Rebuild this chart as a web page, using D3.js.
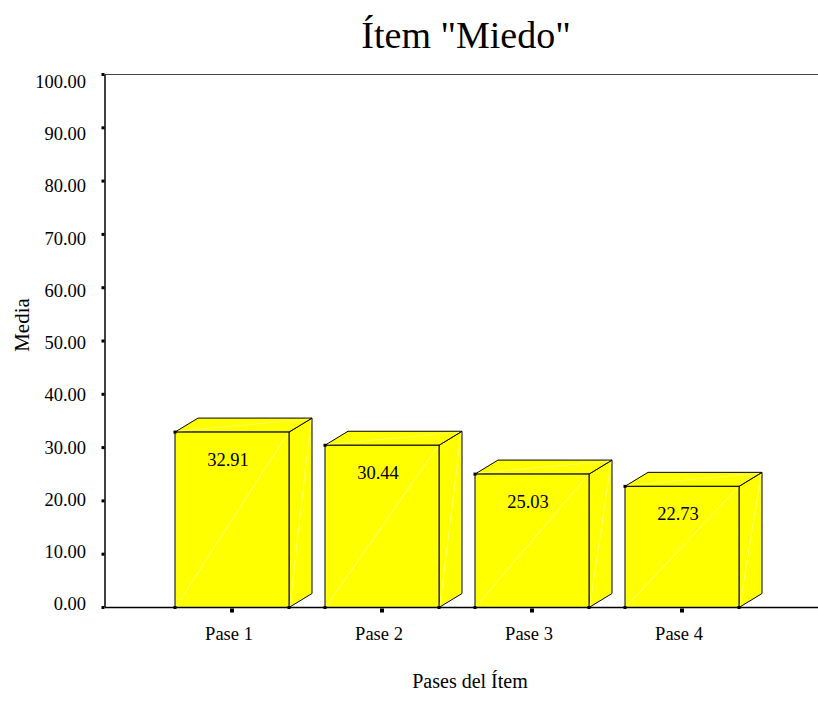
<!DOCTYPE html>
<html>
<head>
<meta charset="utf-8">
<script src="https://cdn.jsdelivr.net/npm/d3@7"></script>
<style>
  html, body { margin: 0; padding: 0; background: #fff; }
  svg { display: block; }
  svg text { font-family: "Times New Roman", "Liberation Serif", Tinos, Times, serif; }
</style>
</head>
<body>
<svg id="chart" width="818" height="716"></svg>
<script>
// Mean score per pass of the item "Miedo"
const categories = ["Pase 1", "Pase 2", "Pase 3", "Pase 4"];
const means = [32.91, 30.44, 25.03, 22.73];
const yTicks = [0, 10, 20, 30, 40, 50, 60, 70, 80, 90, 100];

const title = "Ítem \"Miedo\"";
const xTitle = "Pases del Ítem";
const yTitle = "Media";

const svg = d3.select("#chart");

const plotLeft = 105, plotRight = 818, plotTop = 74.5, plotBottom = 607.5;
const depthX = 23, depthY = -14;
const barW = 114;

const y = d3.scaleLinear().domain([0, 100]).range([plotBottom, plotTop]);
// tick labels sit on a slightly tighter scale than the tick marks
const yLabel = d3.scaleLinear().domain([0, 100]).range([604, 81.5]);
const x = d3.scaleBand().domain(categories).range([157, 757]).padding(0);
const cx = d => x(d) + x.bandwidth() / 2;

// frame: top border, left axis
svg.append("line").attr("x1", plotLeft).attr("x2", plotRight).attr("y1", plotTop).attr("y2", plotTop)
  .attr("stroke", "#444").attr("stroke-width", 1);
svg.append("line").attr("x1", plotLeft).attr("x2", plotLeft).attr("y1", plotTop).attr("y2", plotBottom)
  .attr("stroke", "#000").attr("stroke-width", 1.5);

// y ticks and labels
const yt = svg.append("g");
yt.selectAll("rect").data(yTicks).join("rect")
  .attr("x", plotLeft - 3.5).attr("y", d => y(d) - 1.5).attr("width", 3).attr("height", 3)
  .attr("fill", "#000");
yt.selectAll("text").data(yTicks).join("text")
  .attr("x", 86).attr("y", d => yLabel(d)).attr("dy", "0.35em")
  .attr("text-anchor", "end").attr("font-size", 18.5).attr("fill", "#000")
  .text(d => d.toFixed(2));

// 3D bars
const bars = svg.append("g").selectAll("g").data(categories.map((c, i) => ({ c, v: means[i] })))
  .join("g");

bars.each(function(d) {
  const g = d3.select(this);
  const x0 = cx(d.c) - barW / 2, x1 = x0 + barW;
  const yt0 = y(d.v), yb = y(0);
  const fill = "#ffff00";
  // right side face
  g.append("path")
    .attr("d", `M${x1},${yb} L${x1 + depthX},${yb + depthY} L${x1 + depthX},${yt0 + depthY} L${x1},${yt0} Z`)
    .attr("fill", fill).attr("stroke", "#000").attr("stroke-width", 1).attr("stroke-linejoin", "round");
  // top face
  g.append("path")
    .attr("d", `M${x0},${yt0} L${x0 + depthX},${yt0 + depthY} L${x1 + depthX},${yt0 + depthY} L${x1},${yt0} Z`)
    .attr("fill", fill).attr("stroke", "#000").attr("stroke-width", 1).attr("stroke-linejoin", "round");
  // front face
  g.append("rect")
    .attr("x", x0).attr("y", yt0).attr("width", barW).attr("height", yb - yt0)
    .attr("fill", fill).attr("stroke", "#000").attr("stroke-width", 1);
  // faint highlight diagonals
  g.append("line").attr("x1", x0 + 1).attr("y1", yb - 1).attr("x2", x1 - 1).attr("y2", yt0 + 1)
    .attr("stroke", "#fff").attr("stroke-opacity", 0.55).attr("stroke-width", 0.8);
  g.append("line").attr("x1", x1 + 1).attr("y1", yb - 2).attr("x2", x1 + depthX - 1).attr("y2", yt0 + depthY + 2)
    .attr("stroke", "#fff").attr("stroke-opacity", 0.55).attr("stroke-width", 0.8);
  g.append("line").attr("x1", x0 + 3).attr("y1", yt0 - 1).attr("x2", x1 + depthX - 3).attr("y2", yt0 + depthY + 1)
    .attr("stroke", "#fff").attr("stroke-opacity", 0.45).attr("stroke-width", 0.8);
  // corner points
  [[x0, yt0], [x0, yb], [x1, yb]].forEach(p => {
    g.append("rect").attr("x", p[0] - 1.5).attr("y", p[1] - 1.5).attr("width", 3).attr("height", 3).attr("fill", "#000");
  });
  // value label
  g.append("text")
    .attr("x", cx(d.c) - 4).attr("y", yt0 + 34)
    .attr("text-anchor", "middle").attr("font-size", 18.5).attr("fill", "#000")
    .text(d.v.toFixed(2));
});

// baseline drawn over bar bottoms
svg.append("line").attr("x1", plotLeft).attr("x2", plotRight).attr("y1", plotBottom).attr("y2", plotBottom)
  .attr("stroke", "#000").attr("stroke-width", 1.5);

// x ticks and category labels
const xt = svg.append("g");
xt.selectAll("rect").data(categories).join("rect")
  .attr("x", d => cx(d) - 2).attr("y", plotBottom + 1).attr("width", 4).attr("height", 4)
  .attr("fill", "#000");
xt.selectAll("text").data(categories).join("text")
  .attr("x", d => cx(d) - 3).attr("y", 640)
  .attr("text-anchor", "middle").attr("font-size", 18.5).attr("fill", "#000")
  .text(d => d);

// titles
svg.append("text").attr("x", 466).attr("y", 48).attr("text-anchor", "middle")
  .attr("font-size", 38).attr("fill", "#000").text(title);
svg.append("text").attr("x", 470).attr("y", 688).attr("text-anchor", "middle")
  .attr("font-size", 20).attr("fill", "#000").text(xTitle);
svg.append("text").attr("transform", "translate(29,325) rotate(-90)").attr("text-anchor", "middle")
  .attr("font-size", 21).attr("fill", "#000").text(yTitle);
</script>
</body>
</html>
